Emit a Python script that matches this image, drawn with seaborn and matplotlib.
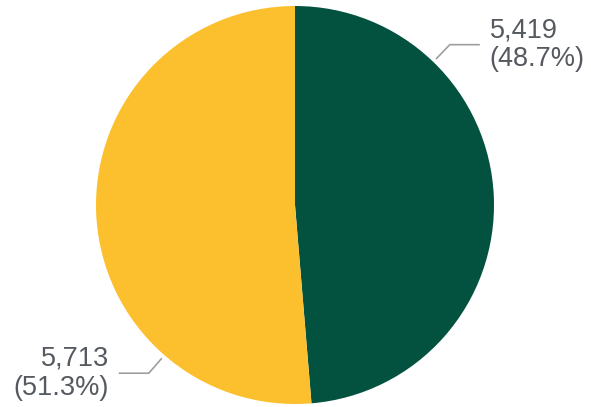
import numpy as np
import matplotlib
matplotlib.use("Agg")
import matplotlib.pyplot as plt
import seaborn as sns

# Two-way split shown as a pie, largest share starting at 12 o'clock going clockwise
categories = ["Group A", "Group B"]
values = [5419, 5713]
colors = ["#03523F", "#FCC02E"]
label_angles = [44, 221]   # degrees clockwise from top where each callout attaches

sns.set_theme(style="white")
plt.rcParams["font.family"] = ["Liberation Sans", "DejaVu Sans"]

W, H, DPI = 591, 407, 100
fig = plt.figure(figsize=(W / DPI, H / DPI), dpi=DPI)
cx, cy, r = 295, 205, 199
ax = fig.add_axes([(cx - r) / W, (H - cy - r) / H, 2 * r / W, 2 * r / H])
ax.axis("off")

ax.pie(values, colors=colors, startangle=90, counterclock=False, radius=1,
       wedgeprops=dict(linewidth=0), frame=False)
ax.set_xlim(-1, 1)
ax.set_ylim(-1, 1)

total = sum(values)
px = 1 / r
for v, ang in zip(values, label_angles):
    t = np.deg2rad(ang)
    sx, sy = np.sin(t), np.cos(t)
    x0, y0 = 1.02 * sx, 1.02 * sy
    x1, y1 = 1.12 * sx, 1.12 * sy
    side = 1 if sx > 0 else -1
    x2 = x1 + side * 30 * px
    ax.plot([x0, x1, x2], [y0, y1, y1], color="#9E9E9E", lw=1.2, clip_on=False,
            solid_capstyle="butt")
    txt = f"{v:,}\n({v / total * 100:.1f}%)"
    ax.text(x2 + side * 10 * px, y1, txt, ha="left" if side > 0 else "right",
            va="center", fontsize=19.5, color="#555A60", linespacing=1.15,
            multialignment="left" if side > 0 else "right", clip_on=False)

fig.savefig("out.png", dpi=DPI)
